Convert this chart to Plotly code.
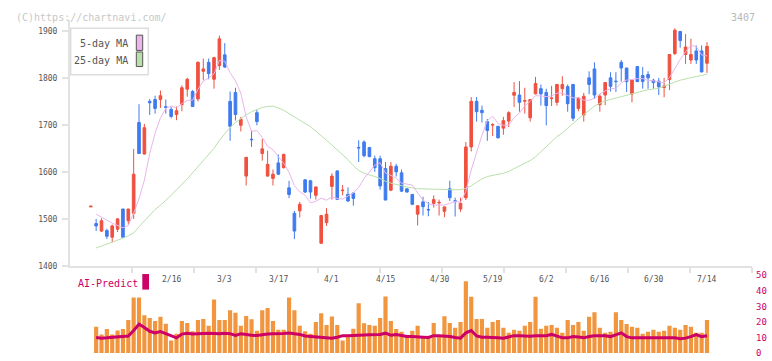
import plotly.graph_objects as go

# ---------------- data ----------------
opens = [1525.5, 1490, 1474, 1475, 1461, 1478, 1521, 1496, 1512, 1705,
         1638, 1750, 1754, 1754, 1738.5, 1733, 1722, 1743, 1776, 1771,
         1755, 1814, 1833, 1797, 1826, 1849, 1750, 1769, 1699, 1591,
         1669.5, 1726, 1639, 1591, 1586, 1619, 1609, 1566, 1512, 1517,
         1583, 1581, 1550, 1448, 1492, 1569, 1602, 1560, 1552, 1555,
         1652, 1663.5, 1652, 1628, 1628, 1607, 1561, 1612, 1598, 1564,
         1552, 1510, 1536, 1520, 1533, 1534, 1516, 1564, 1538.5, 1521,
         1545, 1653, 1750, 1731, 1707, 1699.5, 1697, 1693, 1708, 1763,
         1763.5, 1750.5, 1715, 1766, 1777, 1769, 1756, 1748, 1777, 1781.5,
         1786, 1735, 1721, 1800, 1819, 1743, 1763.5, 1800, 1793, 1833,
         1821, 1765.6, 1824, 1805, 1807, 1795, 1793, 1779.4, 1796.6, 1851.8,
         1898.7, 1849.7, 1838, 1857.3, 1857.3, 1831.1]
highs = [1527, 1500, 1501, 1479, 1488, 1501, 1521, 1521, 1649, 1744,
         1702, 1755, 1762, 1773, 1754, 1738, 1739, 1784, 1800, 1774,
         1835, 1841, 1841, 1845, 1890, 1874, 1771, 1779, 1717, 1631,
         1688, 1732, 1670, 1645, 1605, 1637, 1639, 1581, 1517, 1536,
         1584, 1583, 1568, 1508, 1523, 1597, 1603, 1572, 1567, 1556,
         1667, 1667, 1652, 1634.5, 1634.5, 1621, 1621, 1617, 1605, 1565,
         1552, 1528, 1547, 1536, 1550, 1541, 1526, 1581, 1545, 1545,
         1663.5, 1759, 1759, 1741, 1712.5, 1703.5, 1697, 1717, 1729, 1791,
         1793, 1779, 1754, 1802, 1786, 1777, 1783, 1787, 1803.5, 1786,
         1787, 1759, 1768, 1814, 1833, 1766, 1790, 1812, 1812, 1838,
         1821, 1795.5, 1824.5, 1823, 1814, 1798, 1800, 1800, 1850, 1905.6,
         1898.7, 1893.2, 1883, 1869, 1869, 1876]
lows = [1525, 1474, 1472, 1457, 1450, 1472, 1460, 1488, 1500, 1639,
        1637, 1721, 1724, 1736, 1724, 1714, 1710, 1729, 1760, 1738,
        1750, 1795, 1797, 1777, 1817, 1821, 1666, 1709, 1686, 1571,
        1653, 1699, 1624, 1590, 1571, 1593, 1607, 1544, 1457, 1503,
        1555, 1543, 1541, 1448, 1485, 1541, 1541, 1550, 1536, 1528,
        1621, 1631, 1631, 1600, 1562, 1540, 1559, 1590, 1557, 1556,
        1529, 1486, 1507, 1505.5, 1524, 1507, 1503.5, 1538, 1505, 1515,
        1540, 1643.5, 1707, 1705, 1666, 1676, 1671, 1679, 1695, 1738,
        1728, 1724, 1707, 1765, 1741, 1699, 1740, 1741, 1762, 1728,
        1708, 1729, 1707, 1765, 1755, 1728, 1742, 1771, 1770, 1792,
        1770, 1748, 1791, 1777, 1777, 1777, 1763.5, 1758.7, 1774, 1848.4,
        1864.2, 1829.7, 1829.7, 1829.7, 1812.5, 1810.4]
closes = [1527, 1485, 1496, 1463, 1485, 1500, 1461, 1521, 1595, 1639,
          1694, 1747, 1735, 1762, 1737.5, 1718, 1730, 1779, 1797, 1739,
          1833, 1819, 1809, 1843, 1883, 1823, 1697, 1722, 1712, 1631,
          1668.5, 1707, 1649, 1616, 1595, 1595, 1637, 1552, 1474, 1531,
          1557, 1557, 1568, 1507, 1510, 1591, 1541.5, 1561, 1538, 1543.5,
          1651, 1634.5, 1632.5, 1609, 1570, 1540, 1612, 1600, 1559, 1557,
          1531, 1528, 1526, 1519, 1541, 1535, 1525.5, 1545, 1537.5, 1533,
          1653, 1750, 1728, 1726, 1688, 1700.5, 1672.5, 1709, 1726, 1769,
          1748, 1751.5, 1754, 1788, 1766, 1741, 1757, 1786, 1786, 1745,
          1714, 1757, 1761, 1786, 1763.5, 1761, 1790, 1782, 1792, 1821,
          1792, 1795.3, 1792, 1792, 1800, 1790, 1781, 1782.8, 1849.7, 1901.4,
          1879.4, 1865.6, 1849.7, 1838, 1812.5, 1867]
ma5 = [None, 1510, 1503, 1497, 1491, 1486, 1481, 1486, 1512, 1543,
       1582, 1639, 1682, 1715, 1735, 1740, 1736.5, 1745, 1752, 1752.6,
       1775.6, 1793.4, 1799.4, 1808.6, 1837.4, 1835.4, 1811, 1793.6, 1767.4, 1717,
       1686, 1688, 1673.5, 1654.3, 1647.1, 1632.4, 1618.4, 1599, 1570.6, 1557.8,
       1550.2, 1534.2, 1537.4, 1544, 1539.8, 1546.6, 1543.5, 1542.1, 1548.3, 1555,
       1567, 1585.6, 1599.9, 1614.1, 1619.4, 1597.2, 1592.7, 1586.2, 1576.2, 1573.6,
       1571.8, 1555, 1540.2, 1532.2, 1529, 1529.8, 1529.3, 1533.1, 1536.8, 1535.2,
       1558.8, 1603.7, 1640.3, 1678, 1709, 1718.5, 1703, 1699.2, 1699.2, 1715.4,
       1724.9, 1740.7, 1749.7, 1762.1, 1761.5, 1760.1, 1761.2, 1767.6, 1767.2, 1763,
       1757.6, 1757.6, 1752.6, 1752.6, 1756.3, 1765.7, 1772.3, 1776.5, 1777.7, 1789.2,
       1795.4, 1796.5, 1798.5, 1798.5, 1794.3, 1793.9, 1791, 1789.2, 1800.7, 1821,
       1838.9, 1855.8, 1869.2, 1866.8, 1849, 1846.6]
ma25 = [None, 1438, 1442, 1446, 1450, 1455, 1459, 1464, 1470, 1483,
        1495, 1508, 1520, 1529, 1539, 1550, 1562, 1573, 1585, 1598,
        1611, 1624, 1636, 1650, 1667, 1682, 1695, 1705, 1714, 1721,
        1728, 1733, 1737, 1739, 1740, 1736, 1731, 1724, 1717, 1710,
        1702, 1696, 1687, 1678, 1667, 1657, 1647, 1636, 1626, 1613,
        1603, 1597, 1594, 1590, 1586, 1580, 1576, 1573, 1570, 1568,
        1566, 1564, 1564, 1563, 1563, 1563, 1562, 1562, 1562, 1562,
        1565, 1570, 1578, 1585, 1590, 1593, 1595, 1597, 1601, 1607,
        1613, 1618, 1624, 1632, 1643, 1653, 1664, 1675, 1683, 1692,
        1703, 1713, 1722, 1732, 1740, 1746, 1751, 1754, 1757, 1760,
        1763, 1766, 1769, 1772, 1775, 1776, 1778, 1782, 1787, 1791,
        1795, 1798, 1800, 1803, 1805, 1808]
volume = [None, 16.9, 12, 15.5, 12, 14.5, 15.5, 21.3, 35.8, 35.8,
          24.4, 22.5, 20.6, 23.3, 18.8, 8.1, 12.5, 20.6, 19.4, 14,
          21.3, 21.9, 17.5, 34.4, 21.3, 21.3, 27.5, 26, 17.5, 23.8,
          21.7, 14.3, 27.5, 29, 20.6, 15, 15, 35.7, 27.5, 17.5,
          14, 12.5, 20, 25.6, 18.1, 23.5, 18.1, 8.1, 11.8, 15.7,
          32, 19.2, 18.1, 17.5, 22.5, 36.3, 20.6, 15.5, 13.75, 11.25,
          14.4, 17.5, 9.7, 10, 19.3, 11.5, 23.75, 19.3, 16.25, 20,
          46.25, 36.25, 21.9, 21.9, 16.25, 20, 21.25, 16.25, 13.1, 15,
          14.4, 17.5, 20, 36.25, 15.6, 17.5, 18.1, 16.25, 13.1, 21.25,
          18.1, 20, 14.4, 23.3, 26.25, 16.25, 13.1, 13.75, 26.25, 21.25,
          18.75, 16.9, 16.25, 12.5, 13.75, 15, 13.75, 14.4, 17.5, 16.25,
          15, 18.1, 16.9, 13.1, 13.1, 21.25]
ai_predict = [None, 10, 9.6, 9.8, 10, 10.2, 10.5, 11, 14.5, 18.5,
              16.5, 14, 13, 13.8, 12.5, 11, 9.8, 12.2, 12.8, 12.2,
              12.5, 12.8, 12.8, 12.6, 12.4, 12.8, 12.5, 11.3, 12.4, 12,
              11.4, 11.3, 12, 12.3, 12.4, 12.4, 12.6, 12.9, 12.4, 12,
              11, 10.7, 10.3, 10.3, 9.8, 9.6, 10.2, 11.2, 11.2, 11.2,
              11.3, 11.6, 11.8, 11.8, 12, 12.8, 11.5, 12, 11.3, 10.6,
              10.6, 10.2, 10.2, 10, 11.2, 11.2, 11, 10.6, 10, 9.6,
              13, 14.5, 11, 10.2, 10.2, 9.8, 9.8, 9.6, 10.2, 11.2,
              11.2, 10.8, 10.8, 11.2, 11, 11.2, 12, 10.8, 9.8, 9.8,
              10.6, 10.4, 9.8, 10.6, 11.2, 11.2, 11.2, 10.6, 11.9, 13,
              10.6, 9.8, 9.8, 9.8, 10.2, 10.2, 10.2, 9.8, 9.8, 9.8,
              9.2, 9.6, 10.6, 11.9, 10.6, 11.2]
date_labels = ["2/16", "3/3", "3/17", "4/1", "4/15", "4/30",
               "5/19", "6/2", "6/16", "6/30", "7/14"]
date_label_idx = [15, 25, 35, 45, 55, 65, 75, 85, 95, 105, 115]
price_ticks = [1400, 1500, 1600, 1700, 1800, 1900]
sub_ticks = [0, 10, 20, 30, 40, 50]

x = list(range(len(closes)))

# ---------------- layout constants ----------------
W, H = 772, 361
RED = "#f0503f"
BLUE = "#3f7bef"
PINK = "#e9b5ea"
GREEN = "#b9dfaa"
CRIMSON = "#cc0066"
ORANGE = "#f1963f"
AXIS = "#e2e2e2"
MONO = "DejaVu Sans Mono"

def px_x(v):
    return v / W

def px_y(v):
    return 1 - v / H

xr = [-3.88, 123.4]

fig = go.Figure()

fig.add_trace(go.Candlestick(
    x=x, open=opens, high=highs, low=lows, close=closes,
    increasing=dict(line=dict(color=RED, width=1), fillcolor=RED),
    decreasing=dict(line=dict(color=BLUE, width=1), fillcolor=BLUE),
    whiskerwidth=0, xaxis="x", yaxis="y", showlegend=False,
))
fig.add_trace(go.Scatter(x=x, y=ma25, mode="lines", line=dict(color=GREEN, width=1),
                         xaxis="x", yaxis="y", showlegend=False))
fig.add_trace(go.Scatter(x=x, y=ma5, mode="lines", line=dict(color=PINK, width=1),
                         xaxis="x", yaxis="y", showlegend=False))

fig.add_trace(go.Bar(x=x, y=volume, marker=dict(color=ORANGE, line=dict(width=0)),
                     width=0.78, xaxis="x2", yaxis="y2", showlegend=False))
fig.add_trace(go.Scatter(x=x, y=ai_predict, mode="lines",
                         line=dict(color=CRIMSON, width=3),
                         xaxis="x2", yaxis="y2", showlegend=False))

x_dom = [px_x(70), px_x(752)]
tickvals_x = [xr[0] + (xr[1] - xr[0]) * k / 11 for k in range(1, 12)]

fig.update_layout(
    width=W, height=H,
    margin=dict(l=0, r=0, t=0, b=0),
    paper_bgcolor="white", plot_bgcolor="white",
    showlegend=False,
    bargap=0.22,
    xaxis=dict(domain=x_dom, range=xr, anchor="y",
               showgrid=False, zeroline=False,
               showline=True, linecolor=AXIS, linewidth=2,
               tickmode="array", tickvals=tickvals_x, ticktext=[""] * 11,
               ticks="outside", ticklen=5, tickwidth=2, tickcolor=AXIS,
               rangeslider=dict(visible=False), fixedrange=True),
    yaxis=dict(domain=[px_y(268.3), px_y(15)], range=[1400, 1924],
               anchor="x", showgrid=False, zeroline=False,
               showline=True, linecolor=AXIS, linewidth=2,
               tickmode="array", tickvals=price_ticks,
               ticks="outside", ticklen=6, tickwidth=1.5, tickcolor=AXIS,
               ticklabelstandoff=3,
               tickfont=dict(family=MONO, size=8, color="#555555")),
    xaxis2=dict(domain=x_dom, range=xr, anchor="y2", showgrid=False,
                zeroline=False, showline=False, showticklabels=False,
                ticks=""),
    yaxis2=dict(domain=[px_y(358), px_y(278)], range=[0, 50], anchor="x2",
                side="right", showgrid=False, zeroline=False, showline=False,
                tickmode="array", tickvals=sub_ticks, ticks="",
                ticklabelstandoff=3,
                tickfont=dict(family=MONO, size=9, color=CRIMSON)),
)

annotations = []
annotations.append(dict(x=px_x(14), y=px_y(12.7), xref="paper", yref="paper",
                        xanchor="left", yanchor="middle", showarrow=False,
                        text="(C)https://chartnavi.com/",
                        font=dict(family=MONO, size=10, color="#c8c8c8")))
annotations.append(dict(x=px_x(757), y=px_y(12.5), xref="paper", yref="paper",
                        xanchor="right", yanchor="middle", showarrow=False,
                        text="3407",
                        font=dict(family=MONO, size=10, color="#b8b8b8")))
annotations.append(dict(x=px_x(130), y=px_y(40), xref="paper", yref="paper",
                        xanchor="right", yanchor="middle", showarrow=False,
                        text="5-day MA",
                        font=dict(family=MONO, size=10, color="#555555")))
annotations.append(dict(x=px_x(130), y=px_y(57.3), xref="paper", yref="paper",
                        xanchor="right", yanchor="middle", showarrow=False,
                        text="25-day MA",
                        font=dict(family=MONO, size=10, color="#555555")))
annotations.append(dict(x=px_x(75.5), y=px_y(286), xref="paper", yref="paper",
                        xanchor="left", yanchor="middle", showarrow=False,
                        text="AI-Predict",
                        font=dict(family=MONO, size=10, color=CRIMSON)))
for lab, i in zip(date_labels, date_label_idx):
    annotations.append(dict(x=i, y=px_y(282), xref="x", yref="paper",
                            xanchor="center", yanchor="middle", showarrow=False,
                            text=lab,
                            font=dict(family=MONO, size=8, color="#555555")))
fig.update_layout(annotations=annotations)

shapes = []
shapes.append(dict(type="rect", xref="paper", yref="paper",
                   x0=px_x(70.7), x1=px_x(148.3), y0=px_y(71.7), y1=px_y(24),
                   line=dict(color="#dddddd", width=1.5), fillcolor="white",
                   layer="above"))
shapes.append(dict(type="rect", xref="paper", yref="paper",
                   x0=px_x(136.3), x1=px_x(142.7), y0=px_y(46.7), y1=px_y(31),
                   line=dict(color="#555555", width=1), fillcolor=PINK,
                   layer="above"))
shapes.append(dict(type="rect", xref="paper", yref="paper",
                   x0=px_x(136.3), x1=px_x(142.7), y0=px_y(63.3), y1=px_y(48.3),
                   line=dict(color="#555555", width=1), fillcolor=GREEN,
                   layer="above"))
shapes.append(dict(type="rect", xref="paper", yref="paper",
                   x0=px_x(142.3), x1=px_x(149), y0=px_y(292.7), y1=px_y(276.7),
                   line=dict(width=0), fillcolor=CRIMSON, layer="above"))
fig.update_layout(shapes=shapes)

fig.write_html("out.html")
